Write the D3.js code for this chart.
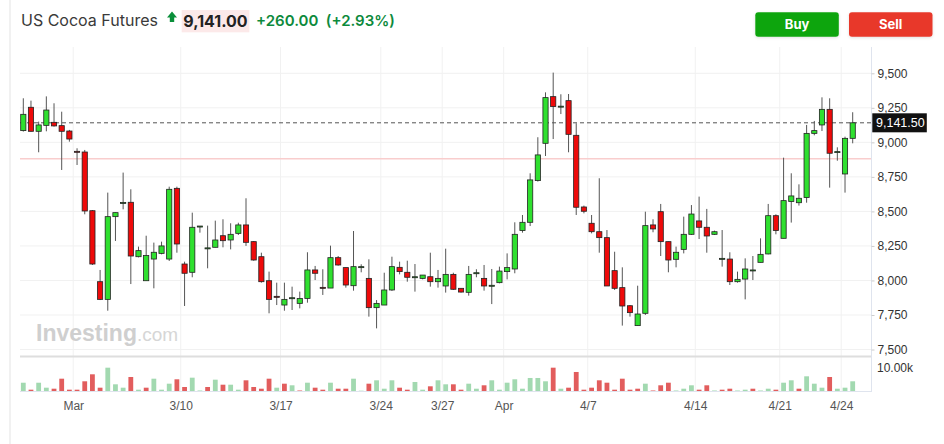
<!DOCTYPE html>
<html>
<head>
<meta charset="utf-8">
<script src="https://cdn.jsdelivr.net/npm/d3@7"></script>
<style>
  html, body { margin: 0; padding: 0; background: #fff; }
  svg { display: block; font-family: "Liberation Sans", Arial, sans-serif; }
  .hdr { font-family: Inter, "Liberation Sans", Arial, sans-serif; }
</style>
</head>
<body>
<svg id="chart" width="944" height="444"></svg>
<script>
// ---------- DATA ----------
const opens = [9085,9254,9080,9123,9145,9121,9082,8935,8930,8505,7991,7863,8462,8560,8566,8172,7998,8155,8196,8155,
  8667,8119,8059,8392,8230,8240,8324,8293,8341,8402,8281,8172,7998,7885,7822,7873,7834,7870,8076,7950,
  7945,8165,8093,7962,8100,8015,7803,7822,7931,8095,8059,8027,8015,8027,7991,7960,8044,7943,7914,8056,
  8015,7965,7984,8064,8083,8361,8421,8723,8993,9331,9258,9302,9051,8532,8414,8353,8310,8071,7948,7817,
  7673,7762,8402,8498,8281,8153,8225,8334,8431,8385,8334,8160,8155,7991,8010,8076,8131,8192,8469,8305,
  8571,8563,8600,9065,9126,9239,8930,8771,9029];
const highs = [9319,9302,9150,9333,9283,9222,9090,8957,8945,8510,8076,8636,8491,8781,8660,8245,8324,8274,8281,8679,
  8679,8136,8491,8394,8397,8433,8443,8414,8418,8595,8285,8201,8064,7984,7984,7955,7919,8204,8105,8081,
  8252,8177,8093,8358,8117,8153,7858,8056,8172,8136,8143,8119,8039,8201,8076,8230,8056,7943,8105,8081,
  8112,8083,8100,8196,8421,8474,8776,9037,9362,9505,9348,9350,9138,8542,8474,8740,8365,8208,8095,7822,
  7962,8498,8443,8554,8281,8245,8462,8546,8607,8518,8361,8365,8204,8064,8160,8177,8305,8554,8479,8889,
  8776,8696,9126,9155,9326,9319,8964,9041,9218];
const lows = [9078,9078,8928,9080,9114,8800,9005,8836,8479,8112,7858,7781,8286,8515,7974,8167,7998,7943,8189,8141,
  8201,7815,8023,8346,8088,8240,8240,8225,8329,8250,8143,7984,7762,7822,7781,7786,7798,7839,8003,7895,
  7945,8107,7948,7926,8059,7738,7653,7822,7924,8044,7991,7919,8008,7955,7948,7912,7931,7912,7890,8023,
  7926,7829,7979,8008,8052,8346,8394,8716,8901,9024,9205,8928,8474,8486,8341,8201,7960,7931,7673,7738,
  7673,7750,8349,8177,8059,8095,8196,8329,8300,8201,8329,8100,7967,7984,7863,8003,8131,8189,8334,8305,
  8419,8542,8563,9051,9082,8672,8867,8636,8993];
const closes = [9203,9080,9126,9234,9119,9080,9024,8933,8503,8119,7863,8462,8491,8565,8177,8216,8180,8204,8250,8660,
  8264,8052,8385,8394,8236,8293,8288,8334,8402,8276,8148,7991,7863,7883,7863,7875,7870,8076,8052,7948,
  8165,8112,7967,8100,8100,7803,7834,7931,8100,8064,8023,8027,8039,7991,8015,8044,7936,7916,8044,8056,
  7960,7965,8068,8093,8334,8421,8728,8909,9324,9259,9262,9058,8530,8501,8353,8310,7960,7943,7815,7767,
  7757,8397,8373,8281,8148,8204,8334,8481,8385,8322,8353,8160,7991,8008,8083,8076,8189,8469,8361,8578,
  8612,8595,9065,9085,9239,8921,8933,9029,9141.5];
const volumes = [3600,570,3600,1440,1000,5350,570,570,4220,7260,1440,10140,2910,1440,6090,570,1440,5350,570,3180,
  5090,1740,5790,220,1740,4920,2740,2740,570,4650,1740,1000,5350,1440,3180,2480,220,3610,1440,570,
  3610,1000,1000,5350,130,3180,4650,1000,4650,1440,570,3920,570,2040,4650,2910,2910,570,3180,1000,
  2480,4650,570,3610,5090,1000,5660,5660,4220,10140,1000,1440,8270,570,1440,4650,3610,570,5350,570,
  1000,3180,220,2480,3610,220,1000,2480,570,2480,220,570,1000,220,570,1000,220,1000,570,3610,
  4650,1000,6390,3180,1440,6090,1000,1440,4220];
// date ticks: label and the candle index where that day begins
const dateLabels = ["Mar","3/10","3/17","3/24","3/27","Apr","4/7","4/14","4/21","4/24"];
const dateIndex = [6.5,20.5,33.5,46.55,54.55,62.55,73.5,87.5,98.5,106.5];
const priceTicks = [7500,7750,8000,8250,8500,8750,9000,9250,9500];
const lastPrice = 9141.5;
const prevClose = 8881;
const title = "US Cocoa Futures";
const headPrice = "9,141.00";
const headChange = "+260.00";
const headPct = "(+2.93%)";

// ---------- DRAW ----------
const svg = d3.select("#chart");
const candles = opens.map((o, i) => ({ i, o, h: highs[i], l: lows[i], c: closes[i], v: volumes[i] }));

const x = d3.scaleLinear().domain([0, candles.length - 1]).range([23.3, 852.7]);
const y = d3.scaleLinear().domain([7500, 9500]).range([349.5, 73.3]);
const yv = d3.scaleLinear().domain([0, 10000]).range([391, 368]);

const plotL = 20, plotR = 871.5;
const fmt = d3.format(",");

// left border
svg.append("line").attr("x1", 10).attr("x2", 10).attr("y1", 0).attr("y2", 444)
  .attr("stroke", "#e3e3e3").attr("stroke-width", 1);

// header
svg.append("text").attr("class", "hdr").attr("x", 21).attr("y", 26).attr("font-size", 16).attr("fill", "#3a3a3a").text(title);
svg.append("path").attr("d", "M172,11.5 L177,17.5 L174.2,17.5 L174.2,22 L169.8,22 L169.8,17.5 L167,17.5 Z").attr("fill", "#0a8f3a");
svg.append("rect").attr("x", 181.7).attr("y", 10).attr("width", 67.6).attr("height", 22.3).attr("fill", "#fce9e9");
svg.append("text").attr("class", "hdr").attr("x", 215.5).attr("y", 26.5).attr("text-anchor", "middle").attr("font-size", 16).attr("font-weight", "bold").attr("fill", "#222").text(headPrice);
svg.append("text").attr("class", "hdr").attr("x", 256).attr("y", 26).attr("font-size", 15).attr("font-weight", 600).attr("fill", "#0d8a3c")
  .attr("xml:space", "preserve").text(headChange + "  " + headPct);

// buttons
const btns = [{ t: "Buy", x: 755.3, c: "#10a510" }, { t: "Sell", x: 849, c: "#e8392c" }];
const defs = svg.append("defs");
const f = defs.append("filter").attr("id", "sh").attr("x", "-20%").attr("y", "-30%").attr("width", "140%").attr("height", "170%");
f.append("feDropShadow").attr("dx", 0).attr("dy", 1).attr("stdDeviation", 1.5).attr("flood-color", "#000").attr("flood-opacity", 0.12);
btns.forEach(b => {
  svg.append("rect").attr("x", b.x).attr("y", 12.3).attr("width", 83.5).attr("height", 24.4).attr("rx", 3)
    .attr("fill", b.c).attr("filter", "url(#sh)");
  svg.append("text").attr("class", "hdr").attr("x", b.x + 41.75).attr("y", 29).attr("text-anchor", "middle").attr("font-size", 13)
    .attr("font-weight", "bold").attr("fill", "#fff").text(b.t);
});

// horizontal gridlines
svg.append("g").selectAll("line").data(priceTicks).join("line")
  .attr("x1", plotL).attr("x2", plotR).attr("y1", d => y(d)).attr("y2", d => y(d))
  .attr("stroke", "#f1f1f1").attr("stroke-width", 1);

// vertical gridlines
svg.append("g").selectAll("line").data(dateIndex).join("line")
  .attr("x1", d => x(d)).attr("x2", d => x(d)).attr("y1", 47).attr("y2", 392)
  .attr("stroke", "#f1f1f1").attr("stroke-width", 1);

// watermark
const wm = svg.append("text").attr("x", 36).attr("y", 341).attr("font-size", 23).attr("fill", "#cfcfcf");
wm.append("tspan").attr("font-weight", "bold").text("Investing");
wm.append("tspan").attr("font-size", 19).attr("fill", "#d6d6d6").text(".com");

// previous close line
svg.append("line").attr("x1", plotL).attr("x2", plotR).attr("y1", y(prevClose)).attr("y2", y(prevClose))
  .attr("stroke", "#f9cdcd").attr("stroke-width", 1.6);

// last price dashed line
svg.append("line").attr("x1", plotL).attr("x2", plotR).attr("y1", y(lastPrice)).attr("y2", y(lastPrice))
  .attr("stroke", "#555").attr("stroke-width", 1).attr("stroke-dasharray", "4,3");

// price panel bottom separator
svg.append("line").attr("x1", plotL).attr("x2", plotR).attr("y1", 356.5).attr("y2", 356.5)
  .attr("stroke", "#dedede").attr("stroke-width", 2);

// volume baseline
svg.append("line").attr("x1", plotL).attr("x2", plotR).attr("y1", 391.5).attr("y2", 391.5)
  .attr("stroke", "#dfe4ee").attr("stroke-width", 1);

// right axis line
svg.append("line").attr("x1", plotR).attr("x2", plotR).attr("y1", 47).attr("y2", 392)
  .attr("stroke", "#dfe4ee").attr("stroke-width", 1);

// volume bars
const bw = 4.8;
svg.append("g").selectAll("rect").data(candles).join("rect")
  .attr("x", d => x(d.i) - bw / 2).attr("width", bw)
  .attr("y", d => yv(d.v)).attr("height", d => yv(0) - yv(d.v))
  .attr("fill", d => {
    const prev = d.i > 0 ? closes[d.i - 1] : d.o;
    return d.c >= prev ? "#a2d9b0" : "#e25d5d";
  });

// candles
const cg = svg.append("g");
cg.selectAll("line").data(candles).join("line")
  .attr("x1", d => x(d.i)).attr("x2", d => x(d.i))
  .attr("y1", d => y(d.h)).attr("y2", d => y(d.l))
  .attr("stroke", "#555").attr("stroke-width", 1);
const cw = 5.2;
cg.selectAll("rect").data(candles).join("rect")
  .attr("x", d => x(d.i) - cw / 2).attr("width", cw)
  .attr("y", d => y(Math.max(d.o, d.c)))
  .attr("height", d => Math.max(1, Math.abs(y(d.o) - y(d.c))))
  .attr("fill", d => d.c >= d.o ? "#2fe02f" : "#ee0a0a")
  .attr("stroke", "#222").attr("stroke-width", 0.8);

// right price axis
const ay = svg.append("g").attr("transform", `translate(${plotR},0)`)
  .call(d3.axisRight(y).tickValues(priceTicks).tickFormat(fmt).tickSize(3).tickPadding(3));
ay.select(".domain").remove();
ay.selectAll(".tick line").attr("stroke", "#ccc");
ay.selectAll(".tick text").attr("font-size", 12).attr("fill", "#333").attr("font-family", "Liberation Sans, Arial, sans-serif");

// volume label
svg.append("text").attr("x", 877).attr("y", 368).attr("dy", "0.35em").attr("font-size", 12).attr("fill", "#333").text("10.00k");

// last price label
svg.append("rect").attr("x", 872.3).attr("y", y(lastPrice) - 9.5).attr("width", 54.5).attr("height", 19).attr("fill", "#111");
svg.append("text").attr("x", 876).attr("y", y(lastPrice)).attr("dy", "0.36em").attr("font-size", 12.5)
  .attr("fill", "#fff").text(fmt(lastPrice).replace(/\.5$/, ".50"));

// date axis
const ax = svg.append("g").attr("transform", "translate(0,392)")
  .call(d3.axisBottom(x).tickValues(dateIndex).tickFormat((d, k) => dateLabels[k]).tickSize(0).tickPadding(9));
ax.select(".domain").remove();
ax.selectAll(".tick text").attr("font-size", 12).attr("fill", "#555").attr("font-family", "Liberation Sans, Arial, sans-serif");
</script>
</body>
</html>
